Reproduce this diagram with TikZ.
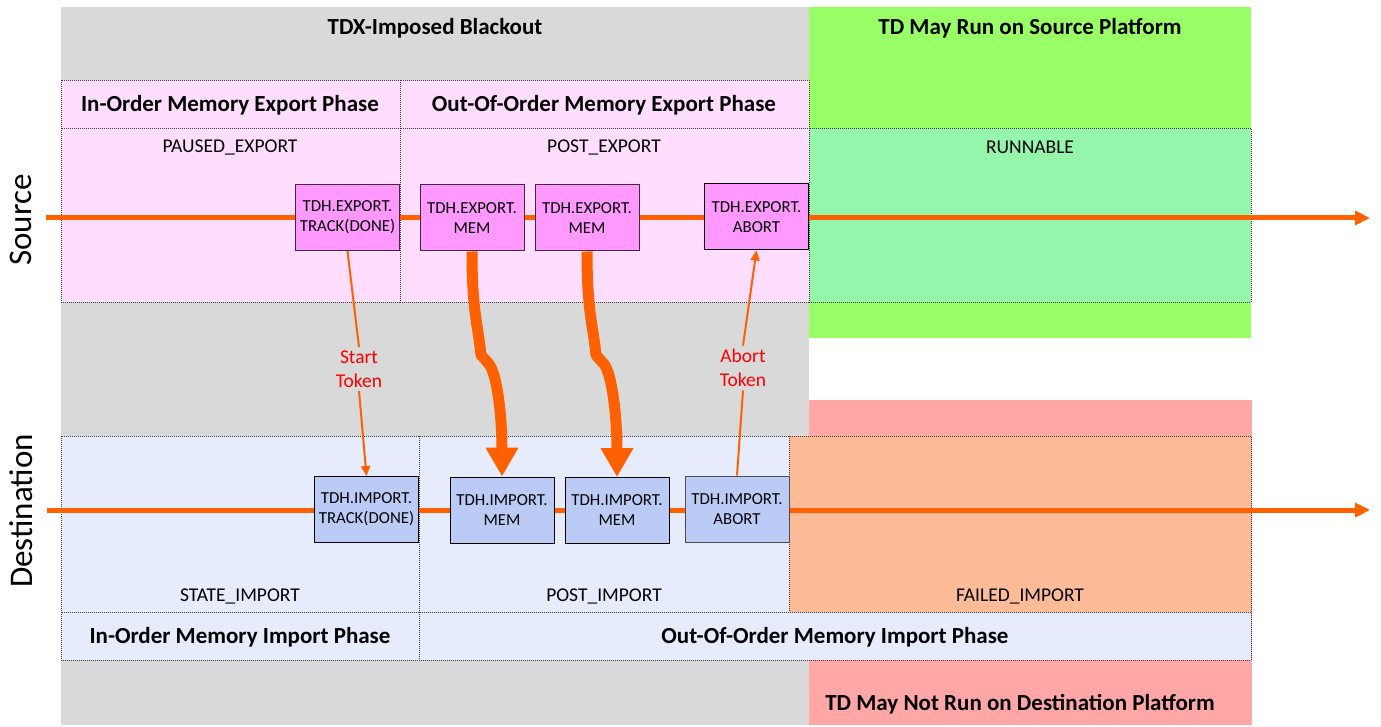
\documentclass[tikz,border=0pt]{standalone}
\usepackage{fontspec}
\setmainfont{Carlito}
\usetikzlibrary{arrows.meta}
\definecolor{bgray}{HTML}{D9D9D9}
\definecolor{bgreen}{HTML}{99FF66}
\definecolor{runfill}{HTML}{95F5AA}
\definecolor{bred}{HTML}{FFA7A7}
\definecolor{failfill}{HTML}{FEBB98}
\definecolor{srcfill}{HTML}{FFDDFE}
\definecolor{srcbox}{HTML}{FF99FF}
\definecolor{dstfill}{HTML}{E6ECFB}
\definecolor{dstbox}{HTML}{BACCF6}
\definecolor{flow}{HTML}{FF6000}
\definecolor{tokred}{HTML}{FF0000}
\begin{document}
\begin{tikzpicture}[x=1pt,y=-1pt,
 region/.style={draw=black!75, line width=0.7pt, dash pattern=on 1pt off 1pt},
 hdr/.style={font=\fontsize{23}{27}\selectfont\bfseries},
 state/.style={font=\fontsize{19.5}{22}\selectfont},
 opbox/.style={draw, line width=1pt, minimum width=104pt, minimum height=66pt, inner sep=0pt, align=center, font=\fontsize{16.8}{20}\selectfont},
 srcop/.style={opbox, fill=srcbox, draw=black!75!srcbox},
 dstop/.style={opbox, fill=dstbox, draw=black},
 flowline/.style={draw=flow, line width=5pt, -{Triangle[length=15pt,width=14pt]}},
 token/.style={draw=flow, line width=2pt},
 tokarrow/.style={token, -{Triangle[length=10pt,width=9pt]}},
 toktext/.style={text=tokred, align=center, font=\fontsize{19.5}{24}\selectfont},
 fat/.style={draw=flow, line width=11pt, line join=round, -{Triangle[length=29pt,width=31pt]}},
 side/.style={rotate=90, font=\fontsize{33}{36}\selectfont}
]
\useasboundingbox (0,0) rectangle (1381,727);
% backgrounds
\fill[bgray] (61,7) rectangle (809,725);
\fill[bgreen] (809,7) rectangle (1251,338);
\fill[bred] (809,400) rectangle (1252,725);
% source regions
\filldraw[region, fill=srcfill] (61,80) rectangle (400,128);
\filldraw[region, fill=srcfill] (400,80) rectangle (809,128);
\filldraw[region, fill=srcfill] (61,128) rectangle (400,302);
\filldraw[region, fill=srcfill] (400,128) rectangle (809,302);
\filldraw[region, fill=runfill] (809,128) rectangle (1251,302);
% destination regions
\filldraw[region, fill=dstfill] (61,436) rectangle (419,612);
\filldraw[region, fill=dstfill] (419,436) rectangle (789,612);
\filldraw[region, fill=failfill] (789,436) rectangle (1251,612);
\filldraw[region, fill=dstfill] (61,612) rectangle (419,660);
\filldraw[region, fill=dstfill] (419,612) rectangle (1251,660);
% texts
\node[hdr] (tblack) at (435,28) {TDX-Imposed Blackout};
\node[hdr] (tsrcrun) at (1030,28) {TD May Run on Source Platform};
\node[hdr] (tdstrun) at (1020,704) {TD May Not Run on Destination Platform};
\node[hdr] (tioexp) at (230,105) {In-Order Memory Export Phase};
\node[hdr] (tooexp) at (604,105) {Out-Of-Order Memory Export Phase};
\node[hdr] (tioimp) at (240,637) {In-Order Memory Import Phase};
\node[hdr] (tooimp) at (835,637) {Out-Of-Order Memory Import Phase};
\node[state] (tpaused) at (230,147) {PAUSED\_EXPORT};
\node[state] (tpostexp) at (604,147) {POST\_EXPORT};
\node[state] (trun) at (1030,147) {RUNNABLE};
\node[state] (tstate) at (240,596) {STATE\_IMPORT};
\node[state] (tpostimp) at (604,596) {POST\_IMPORT};
\node[state] (tfail) at (1020,596) {FAILED\_IMPORT};
\node[side] (tsource) at (21,220) {Source};
\node[side] (tdest) at (21,511) {Destination};
% main lines
\coordinate (sstart) at (46,218);
\coordinate (send) at (1370,218);
\coordinate (dstart) at (47,510);
\coordinate (dend) at (1370,510);
\draw[flowline] (sstart) -- (send);
\draw[flowline] (dstart) -- (dend);
% operation boxes
\node[srcop] (etrack) at (347.5,217.5) {TDH.EXPORT.\\TRACK(DONE)};
\node[srcop] (emem1) at (472,218) {TDH.EXPORT.\\MEM};
\node[srcop] (emem2) at (587,218) {TDH.EXPORT.\\MEM};
\node[srcop, draw=black] (eabort) at (756.5,217) {TDH.EXPORT.\\ABORT};
\node[dstop] (itrack) at (366.5,509.5) {TDH.IMPORT.\\TRACK(DONE)};
\node[dstop] (imem1) at (502,510) {TDH.IMPORT.\\MEM};
\node[dstop] (imem2) at (617,510.5) {TDH.IMPORT.\\MEM};
\node[dstop, draw=black!70] (iabort) at (737,509) {TDH.IMPORT.\\ABORT};
% tokens
\node[toktext] (tstart) at (359,369) {Start\\Token};
\node[toktext] (tabort) at (743,368) {Abort\\Token};
\draw[token] (etrack.south) -- (tstart.north);
\draw[tokarrow] (tstart.south) -- (itrack.north);
\draw[token] (iabort.north) -- (tabort.south);
\draw[tokarrow] (tabort.north) -- (eabort.south);
% fat memory arrows
\coordinate (k1a) at (481,355);
\coordinate (k1b) at (489,364);
\coordinate (k2a) at (596,355);
\coordinate (k2b) at (604,364);
\draw[fat] (emem1.south) .. controls +(0,60) and +(-3,-30) .. (k1a) -- (k1b) .. controls +(8,10) and +(0,-60) .. (imem1.north);
\draw[fat] (emem2.south) .. controls +(0,60) and +(-3,-30) .. (k2a) -- (k2b) .. controls +(8,10) and +(0,-60) .. (imem2.north);
\end{tikzpicture}
\end{document}
